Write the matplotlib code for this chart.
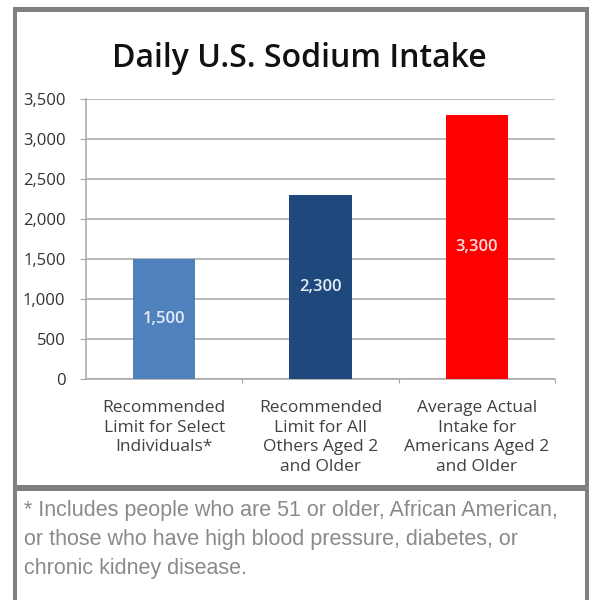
import matplotlib
matplotlib.use("Agg")
import matplotlib.pyplot as plt
from matplotlib.patches import Rectangle
from matplotlib.ticker import FuncFormatter, MultipleLocator

# Data
categories = [
    "Recommended\nLimit for Select\nIndividuals*",
    "Recommended\nLimit for All\nOthers Aged 2\nand Older",
    "Average Actual\nIntake for\nAmericans Aged 2\nand Older",
]
sodium_mg = [1500, 2300, 3300]
bar_colors = ["#4f81bd", "#1f497d", "#ff0000"]
title = "Daily U.S. Sodium Intake"
footnote = ("* Includes people who are 51 or older, African American,\n"
            "or those who have high blood pressure, diabetes, or\n"
            "chronic kidney disease.")

W, H = 592, 600
fig = plt.figure(figsize=(W / 100, H / 100), dpi=100)
fig.patch.set_facecolor("white")

FONT = ["Open Sans", "DejaVu Sans"]
frame_gray = "#808080"


def px_rect(x0, y0, x1, y1, color):
    """Rectangle given in pixel coordinates measured from the top-left."""
    fig.add_artist(Rectangle((x0 / W, 1 - y1 / H), (x1 - x0) / W, (y1 - y0) / H,
                             transform=fig.transFigure, facecolor=color,
                             edgecolor="none", zorder=5))


# Frame around chart and footnote panels
px_rect(13, 7, 589, 12, frame_gray)      # top
px_rect(13, 7, 17, 600, frame_gray)      # left
px_rect(585, 7, 589, 600, frame_gray)    # right
px_rect(13, 485, 589, 491, frame_gray)   # divider

ax = fig.add_axes([86 / W, 1 - 379 / H, (555 - 86) / W, (379 - 99) / H])
x = range(len(categories))
bars = ax.bar(x, sodium_mg, width=0.40, color=bar_colors, zorder=3)

ax.set_ylim(0, 3500)
ax.set_xlim(-0.5, len(categories) - 0.5)
ax.yaxis.set_major_locator(MultipleLocator(500))
ax.yaxis.set_major_formatter(FuncFormatter(lambda v, p: f"{int(v):,}"))
ax.grid(axis="y", color="#a6a6a6", linewidth=1.1, zorder=0)

for s in ["top", "right"]:
    ax.spines[s].set_visible(False)
for s in ["left", "bottom"]:
    ax.spines[s].set_color("#a6a6a6")
    ax.spines[s].set_linewidth(1.1)

ax.tick_params(axis="y", length=4.3, color="#a6a6a6", labelsize=12,
               labelcolor="#333333", pad=10.5)
ax.set_xticks([i + 0.5 for i in range(len(categories))])
ax.tick_params(axis="x", length=3, color="#a6a6a6", labelbottom=False)
for lab in ax.get_yticklabels():
    lab.set_family(FONT)

for i, cat in enumerate(categories):
    ax.text(i, -0.075, cat, transform=ax.get_xaxis_transform(), ha="center",
            va="top", fontsize=12.5, color="#404040", family=FONT,
            linespacing=1.3)

label_colors = ["#e6ecf6", "#e6ecf6", "#ffe0e0"]
for b, v, c in zip(bars, sodium_mg, label_colors):
    ax.text(b.get_x() + b.get_width() / 2, v / 2, f"{v:,}", ha="center",
            va="center", fontsize=12, fontweight="semibold", color=c,
            family=FONT, zorder=4)

fig.text(299 / W, 1 - 67 / H, title, ha="center", va="baseline", fontsize=23,
         fontweight="semibold", family=FONT, color="#111111")

fig.text(24 / W, 1 - 500 / H, footnote, ha="left", va="top", fontsize=15.5,
         family=["Liberation Sans", "DejaVu Sans"], color="#8a8a8a",
         linespacing=1.5)

fig.savefig("out.png", dpi=100, facecolor="white")
